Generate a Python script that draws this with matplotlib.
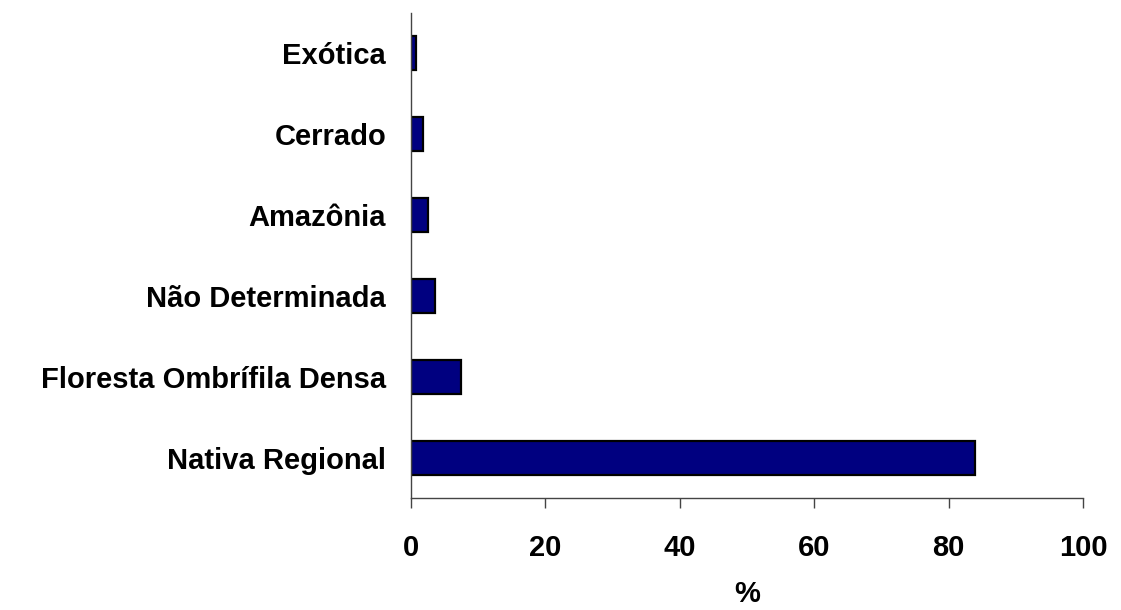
import matplotlib.pyplot as plt
import numpy as np

# origem das especies (% do total)
categorias = ['Nativa Regional', 'Floresta Ombrífila Densa', 'Não Determinada',
              'Amazônia', 'Cerrado', 'Exótica']
valores = [84.0, 7.5, 3.5, 2.5, 1.8, 0.7]
xticks = [0, 20, 40, 60, 80, 100]

plt.rcParams['font.family'] = ['Liberation Sans', 'DejaVu Sans']
plt.rcParams['font.weight'] = 'bold'
fs = 21

fig = plt.figure(figsize=(11.21, 6.10), dpi=100)
ax = fig.add_axes([411 / 1121, 1 - 498 / 610, (1083 - 411) / 1121, (498 - 13) / 610])

y = np.arange(len(categorias))
ax.barh(y, valores, height=0.42, color='#000080', edgecolor='black', linewidth=1.6)

ax.set_xlim(0, 100)
ax.set_ylim(-0.5, 5.5)
ax.set_xticks(xticks)
ax.set_xticklabels([str(t) for t in xticks])
ax.set_yticks(y)
ax.set_yticklabels(categorias)

for s in ['top', 'right']:
    ax.spines[s].set_visible(False)
for s in ['left', 'bottom']:
    ax.spines[s].set_color('#444444')
    ax.spines[s].set_linewidth(1.0)

ax.tick_params(axis='x', direction='out', length=7, width=1.0, color='#444444',
               labelsize=fs, pad=19)
ax.tick_params(axis='y', length=0, labelsize=fs, pad=18)
ax.set_xlabel('%', fontsize=fs, fontweight='bold', labelpad=13)

fig.savefig('out.png', dpi=100)
